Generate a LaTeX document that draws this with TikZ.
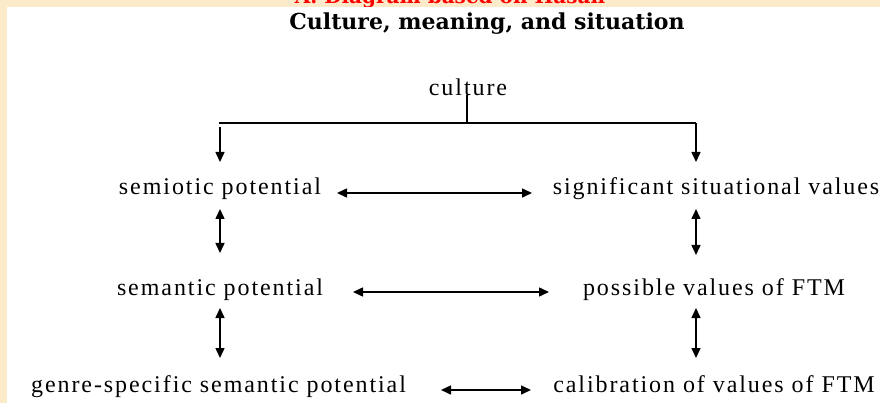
\documentclass[tikz,border=0pt]{standalone}
\usepackage{fontspec}
\setmainfont{Liberation Serif}
\newfontfamily\bodyfont[LetterSpace=8]{Liberation Serif}
\newfontfamily\titlefont{DejaVu Serif}
\usetikzlibrary{arrows.meta}
\definecolor{parch}{HTML}{FBEBCB}
\begin{document}
\begin{tikzpicture}[x=1pt,y=-1pt,
  lbl/.style={inner sep=0pt, font=\bodyfont\fontsize{24}{28}\selectfont, text height=16pt, text depth=5pt},
  ln/.style={line width=1.5pt, black},
  arr/.style={ln, -{Triangle[length=10pt,width=9pt]}},
  darr/.style={ln, {Triangle[length=10pt,width=9pt]}-{Triangle[length=10pt,width=9pt]}}]
\useasboundingbox (0,0) rectangle (880,403);
\clip (0,0) rectangle (880,403);
\fill[parch] (0,0) rectangle (880,403);
\node[anchor=base, inner sep=0pt, text=red, font=\titlefont\bfseries\fontsize{20}{24}\selectfont] (hdr) at (450,4) {A. Diagram based on Hasan};
\fill[white] (7,7) rectangle (880,403);
\node[anchor=base, inner sep=0pt, font=\titlefont\bfseries\fontsize{22}{26}\selectfont] (title) at (487,29.5) {Culture, meaning, and situation};

\node[lbl] (cul) at (468,90) {culture};
\node[lbl] (semio) at (220,189) {semiotic potential};
\node[lbl] (signif) at (716,189) {significant situational values};
\node[lbl] (seman) at (220,290) {semantic potential};
\node[lbl] (poss) at (714,290) {possible values of FTM};
\node[lbl] (genre) at (218.5,387) {genre-specific semantic potential};
\node[lbl] (calib) at (714,387) {calibration of values of FTM};

% culture branching
\coordinate (stemtop) at (467,95);
\coordinate (stembot) at (467,123);
\coordinate (barL) at (219,123);
\coordinate (barR) at (696,123);
\coordinate (dL0) at (220,127);
\coordinate (dL1) at (220,162);
\coordinate (dR1) at (696,162);
\draw[ln] (stemtop) -- (stembot);
\draw[ln] (barL) -- (barR);
\draw[arr] (dL0) -- (dL1);
\draw[arr] (barR) -- (dR1);

% horizontal double arrows
\coordinate (h1a) at (337,193); \coordinate (h1b) at (532,193);
\coordinate (h2a) at (353,292); \coordinate (h2b) at (549,292);
\coordinate (h3a) at (441,390); \coordinate (h3b) at (531,390);
\draw[darr] (h1a) -- (h1b);
\draw[darr] (h2a) -- (h2b);
\draw[darr] (h3a) -- (h3b);

% vertical double arrows
\coordinate (vL1a) at (220,209); \coordinate (vL1b) at (220,253);
\coordinate (vL2a) at (220,308); \coordinate (vL2b) at (220,358);
\coordinate (vR1a) at (696,209); \coordinate (vR1b) at (696,255);
\coordinate (vR2a) at (696,308); \coordinate (vR2b) at (696,358);
\draw[darr] (vL1a) -- (vL1b);
\draw[darr] (vL2a) -- (vL2b);
\draw[darr] (vR1a) -- (vR1b);
\draw[darr] (vR2a) -- (vR2b);
\end{tikzpicture}
\end{document}
